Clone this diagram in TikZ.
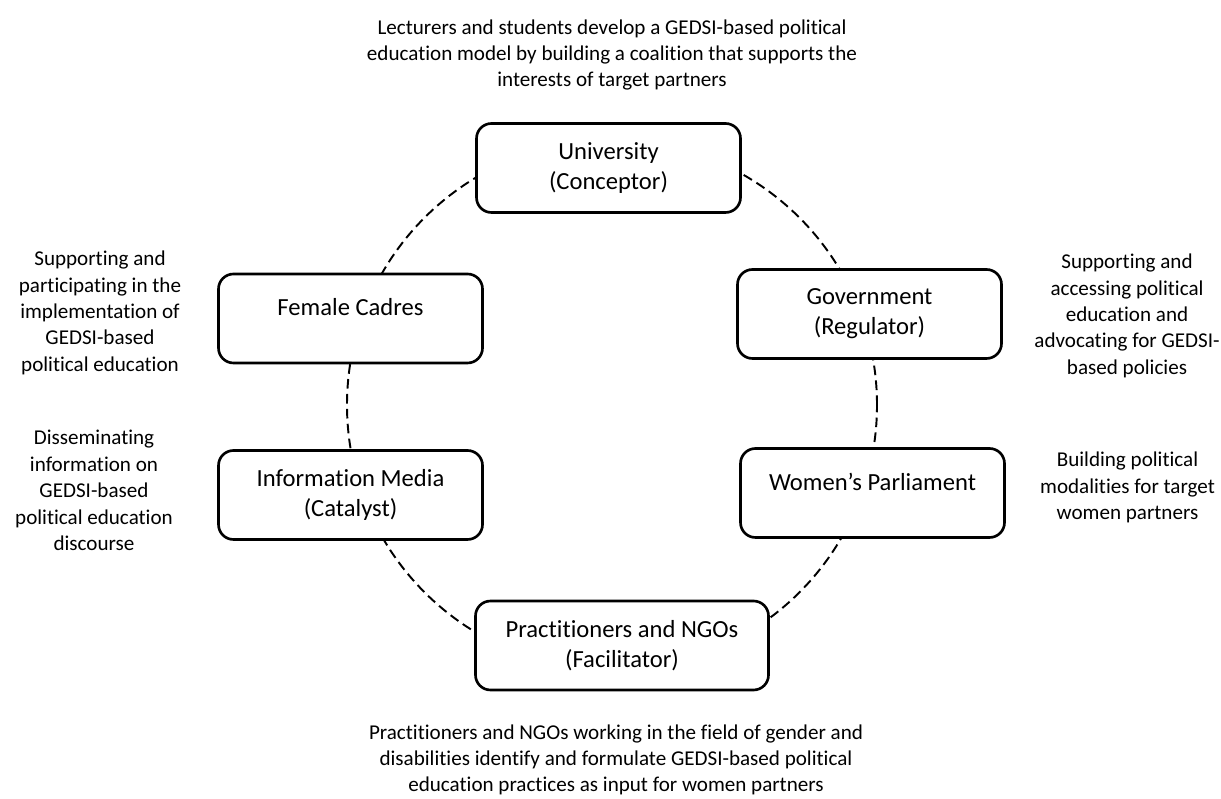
\documentclass[tikz,border=0pt]{standalone}
\usepackage{fontspec}
\setmainfont{Carlito}[Ligatures=NoCommon]
\usepackage{tikz}

\begin{document}
\begin{tikzpicture}[every node/.style={align=center},every text node part/.style={align=center},actor/.style={draw,line width=1.5pt,rounded corners=0.3cm,fill=white,minimum width=5.28cm,minimum height=1.78cm,font=\fontsize{14}{17}\selectfont},note/.style={font=\fontsize{12}{15}\selectfont},ring/.style={draw,circle,inner sep=0pt,minimum size=10.6cm,line width=1.1pt,dash pattern=on 5.5pt off 3pt}]
	\useasboundingbox (0,0) rectangle (24.42,15.96);
	\node[ring] (ring) at (12.24,7.86) {};

	\node[actor] (uni) at (12.17,12.6) {University\\(Conceptor)};
	\node[actor,text depth=0.45cm] (cadres) at (7.01,9.59) {Female Cadres};
	\node[actor] (gov) at (17.39,9.68) {Government\\(Regulator)};
	\node[actor] (media) at (7.01,6.06) {Information Media\\(Catalyst)};
	\node[actor,text depth=0.45cm] (parl) at (17.45,6.10) {Women’s Parliament};
	\node[actor,minimum width=5.86cm] (ngo) at (12.44,3.05) {Practitioners and NGOs\\(Facilitator)};

	\node[note] (uniNote) at (12.24,14.86) {Lecturers and students develop a GEDSI-based political\\education model by building a coalition that supports the\\interests of target partners};
	\node[note] (cadresNote) at (2.0,9.70) {Supporting and\\participating in the\\implementation of\\GEDSI-based\\political education};
	\node[note] (govNote) at (22.54,9.64) {Supporting and\\accessing political\\education and\\advocating for GEDSI-\\based policies};
	\node[note] (mediaNote) at (1.88,6.15) {Disseminating\\information on\\GEDSI-based\\political education\\discourse};
	\node[note] (parlNote) at (22.55,6.21) {Building political\\modalities for target\\women partners};
	\node[note,inner sep=0pt] (ngoNote) at (12.32,0.76) {Practitioners and NGOs working in the field of gender and\\disabilities identify and formulate GEDSI-based political\\education practices as input for women partners};
\end{tikzpicture}
\end{document}
